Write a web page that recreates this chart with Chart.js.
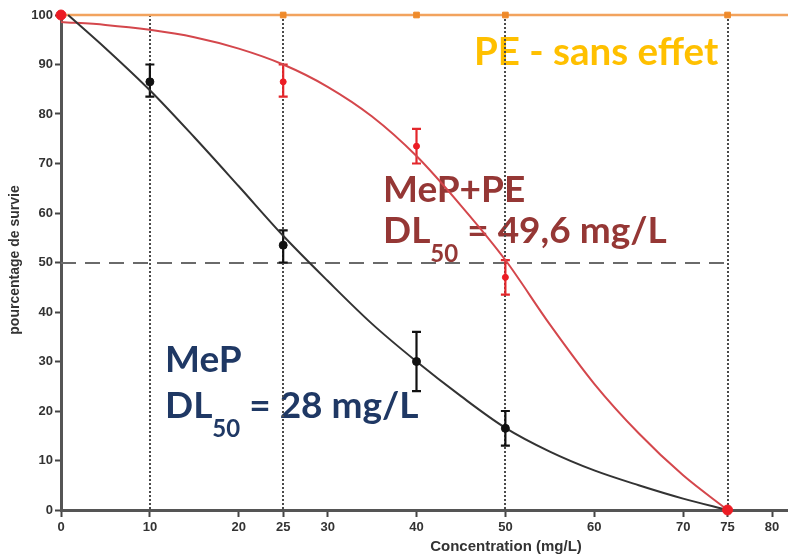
<!DOCTYPE html>
<html><head><meta charset="utf-8">
<script src="https://cdn.jsdelivr.net/npm/chart.js@4.4.1/dist/chart.umd.min.js"></script>
<style>html,body{margin:0;padding:0;background:#fff;overflow:hidden;}canvas{display:block;}</style>
</head><body><canvas id="c" width="788" height="557"></canvas>
<script>
// ---- data ----
const xMax = 81.8;
const xTicks = [0, 10, 20, 25, 30, 40, 50, 60, 70, 75, 80];
const yTicks = [0, 10, 20, 30, 40, 50, 60, 70, 80, 90, 100];
const refLinesX = [10, 25, 50, 75];
const halfLevel = 50;

const mepX = [10, 25, 40, 50];
const mepMean = [86.5, 53.5, 30, 16.5];
const mepLow = [83.5, 50, 24, 13];
const mepHigh = [90, 56.5, 36, 20];

const mepPeX = [0, 25, 40, 50, 75];
const mepPeMean = [100, 86.5, 73.5, 47, 0];
const mepPeLow = [null, 83.5, 70, 43.5, null];
const mepPeHigh = [null, 90, 77, 50.5, null];

const peX = [0, 25, 40, 50, 75];
const peMean = [100, 100, 100, 100, 100];

const mepFitX = [0.8, 5, 10, 15, 20, 25, 30, 35, 40, 45, 50, 55, 60, 65, 70, 75];
const mepFitY = [100, 93.3, 84.8, 75.3, 65.4, 55.4, 46.3, 37.6, 30, 23, 16.6, 11.8, 8, 5, 2.3, 0];
const mepPeFitX = [0, 5, 10, 15, 20, 25, 30, 35, 40, 45, 50, 55, 60, 65, 70, 75];
const mepPeFitY = [98.6, 98, 97, 95.5, 93.2, 90, 85.5, 79.5, 71.5, 61.5, 50.5, 37.5, 25.5, 15.5, 7, 0];

const peLineX = [0, xMax];
const peLineY = [100, 100];

const labelPE = "PE - sans effet";
const labelMepPe = "MeP+PE";
const labelMep = "MeP";
const dlMepPe = " = 49,6 mg/L";
const dlMep = " = 28 mg/L";
const xTitle = "Concentration (mg/L)";
const yTitle = "pourcentage de survie";

const pts = (xs, ys) => xs.map((v, i) => ({x: v, y: ys[i]}));

// ---- plugin ----
const ANN_FONT = 'Lato, "Open Sans", sans-serif';
function drawDL(ctx, x0, base, rest, color, size) {
  ctx.fillStyle = color;
  ctx.textAlign = 'left'; ctx.textBaseline = 'alphabetic';
  ctx.font = `bold ${size}px ${ANN_FONT}`;
  ctx.fillText('DL', x0, base);
  let x = x0 + ctx.measureText('DL').width;
  const sub = Math.round(size * 0.64);
  ctx.font = `bold ${sub}px ${ANN_FONT}`;
  ctx.fillText('50', x, base + 19);
  x += ctx.measureText('50').width;
  ctx.font = `bold ${size}px ${ANN_FONT}`;
  ctx.fillText(rest, x, base);
}
const overlay = {
  id: 'overlay',
  beforeDatasetsDraw(chart) {
    const {ctx, scales: {x, y}} = chart;
    ctx.save();
    const S = 37;
    ctx.textAlign = 'left'; ctx.textBaseline = 'alphabetic';
    ctx.font = `bold 38.5px ${ANN_FONT}`;
    ctx.fillStyle = '#FFC000';
    ctx.fillText(labelPE, 474, 65);
    ctx.font = `bold ${S}px ${ANN_FONT}`;
    ctx.fillStyle = '#953735';
    ctx.fillText(labelMepPe, 383, 202);
    drawDL(ctx, 383, 243, dlMepPe, '#953735', S);
    ctx.font = `bold ${S}px ${ANN_FONT}`;
    ctx.fillStyle = '#1F3864';
    ctx.fillText(labelMep, 165, 372);
    drawDL(ctx, 165, 418, dlMep, '#1F3864', S);

    ctx.strokeStyle = '#4a4a4a'; ctx.lineWidth = 2; ctx.setLineDash([2, 2]);
    refLinesX.forEach(v => {
      const px = Math.round(x.getPixelForValue(v));
      ctx.beginPath(); ctx.moveTo(px, y.getPixelForValue(100)); ctx.lineTo(px, y.getPixelForValue(0)); ctx.stroke();
    });
    ctx.strokeStyle = '#6a6a6a'; ctx.lineWidth = 2; ctx.setLineDash([15, 9]);
    const py = Math.round(y.getPixelForValue(halfLevel));
    ctx.beginPath(); ctx.moveTo(x.getPixelForValue(0), py); ctx.lineTo(x.getPixelForValue(75) + 2, py); ctx.stroke();
    ctx.setLineDash([]);

    const eb = (xs, lo, hi, color) => {
      ctx.strokeStyle = color; ctx.lineWidth = 2.2;
      xs.forEach((v, i) => {
        if (lo[i] == null) return;
        const px = x.getPixelForValue(v), a = y.getPixelForValue(lo[i]), b = y.getPixelForValue(hi[i]);
        ctx.beginPath();
        ctx.moveTo(px, a); ctx.lineTo(px, b);
        ctx.moveTo(px - 4.5, a); ctx.lineTo(px + 4.5, a);
        ctx.moveTo(px - 4.5, b); ctx.lineTo(px + 4.5, b);
        ctx.stroke();
      });
    };
    eb(mepX, mepLow, mepHigh, '#111');
    eb(mepPeX, mepPeLow, mepPeHigh, '#e3262b');
    ctx.restore();
  },
  afterDraw(chart) {
    const {ctx} = chart;
    ctx.save();
    ctx.fillStyle = '#333';
    ctx.font = 'bold 15px "Liberation Sans", Arial, sans-serif';
    ctx.textAlign = 'center'; ctx.textBaseline = 'middle';
    ctx.fillText(xTitle, 506, 547);
    ctx.translate(15, 260); ctx.rotate(-Math.PI / 2);
    ctx.font = 'bold 14px "Liberation Sans", Arial, sans-serif';
    ctx.fillText(yTitle, 0, 0);
    ctx.restore();
  }
};

const tickFont = {family: '"Liberation Sans", Arial, sans-serif', size: 13, weight: 'bold'};
new Chart(document.getElementById('c'), {
  type: 'scatter',
  data: {
    datasets: [
      {label: 'MeP', data: pts(mepX, mepMean), showLine: false, pointRadius: 4, pointBackgroundColor: '#111', pointBorderColor: '#111', order: 1},
      {label: 'MeP+PE', data: pts(mepPeX, mepPeMean), showLine: false,
        pointRadius: c => (c.dataIndex === 0 || c.dataIndex === mepPeX.length - 1) ? 5 : 3,
        pointBackgroundColor: '#ec1c24', pointBorderColor: '#ec1c24', order: 2},
      {label: 'fit MeP', data: pts(mepFitX, mepFitY), showLine: true, pointRadius: 0, borderColor: '#333', borderWidth: 2, cubicInterpolationMode: 'monotone', order: 3},
      {label: 'fit MeP+PE', data: pts(mepPeFitX, mepPeFitY), showLine: true, pointRadius: 0, borderColor: '#d4474c', borderWidth: 2, cubicInterpolationMode: 'monotone', order: 4},
      {label: 'PE', data: pts(peX, peMean), showLine: false, pointStyle: 'rect', pointRadius: 4, pointBackgroundColor: '#ef8a2a', pointBorderColor: '#ef8a2a', order: 5},
      {label: 'PE line', data: pts(peLineX, peLineY), showLine: true, pointRadius: 0, borderColor: '#f2a35e', borderWidth: 2.5, order: 6}
    ]
  },
  options: {
    responsive: false, animation: false, devicePixelRatio: 1,
    layout: {padding: {top: 15, right: 0, left: 0, bottom: 0}, autoPadding: false},
    clip: false,
    plugins: {legend: {display: false}, tooltip: {enabled: false}},
    scales: {
      x: {
        type: 'linear', min: 0, max: xMax,
        afterBuildTicks: s => { s.ticks = xTicks.map(v => ({value: v})); },
        afterFit: s => { s.height = 47; s.paddingLeft = 0; s.paddingRight = 0; },
        ticks: {font: tickFont, color: '#333', padding: 3, maxRotation: 0, autoSkip: false},
        grid: {drawOnChartArea: false, drawTicks: true, tickLength: 7, tickColor: '#444', tickWidth: 2},
        border: {color: '#555', width: 3}
      },
      y: {
        min: 0, max: 100,
        afterBuildTicks: s => { s.ticks = yTicks.map(v => ({value: v})); },
        afterFit: s => { s.width = 61; s.paddingTop = 0; s.paddingBottom = 0; },
        ticks: {font: tickFont, color: '#333', padding: 2},
        grid: {drawOnChartArea: false, drawTicks: true, tickLength: 6, tickColor: '#444', tickWidth: 2},
        border: {color: '#555', width: 3}
      }
    }
  },
  plugins: [overlay]
});
</script></body></html>
